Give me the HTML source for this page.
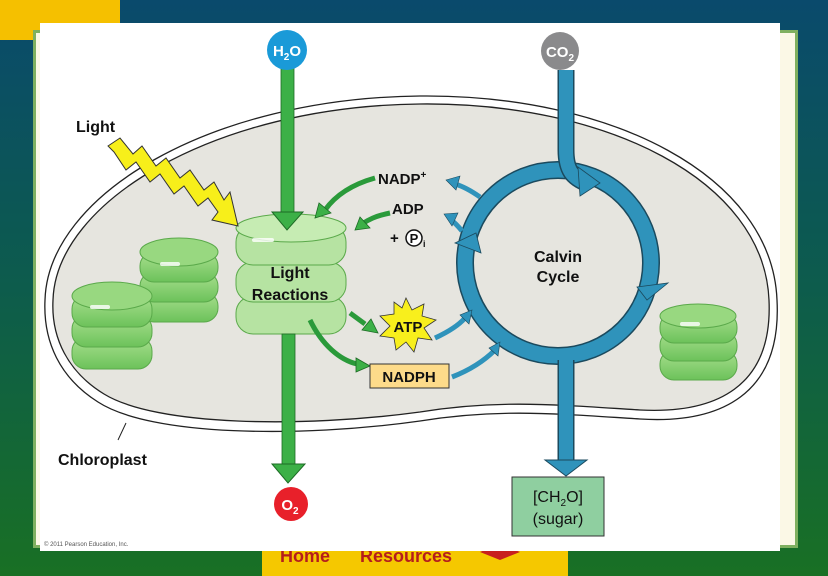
<!DOCTYPE html>
<html><head><meta charset="utf-8"><style>
body{margin:0;width:828px;height:576px;overflow:hidden;background:#0e5a4a;font-family:"Liberation Sans",sans-serif}
</style></head><body>
<svg width="828" height="576" viewBox="0 0 828 576" xmlns="http://www.w3.org/2000/svg" style="position:absolute;left:0;top:0">
<defs>
<linearGradient id="bg" x1="0" y1="0" x2="0" y2="1"><stop offset="0" stop-color="#0a4a6c"/><stop offset="0.5" stop-color="#0d5c4c"/><stop offset="1" stop-color="#197024"/></linearGradient>
<linearGradient id="disk" x1="0" y1="0" x2="0" y2="1"><stop offset="0" stop-color="#a9e08f"/><stop offset="1" stop-color="#6cc25a"/></linearGradient>
</defs>
<rect width="828" height="576" fill="url(#bg)"/>
<rect x="0" y="0" width="120" height="40" fill="#f5c000"/>
<rect x="33" y="30" width="765" height="518" fill="#7fb060"/>
<rect x="36" y="33" width="759" height="512" fill="#fbf8e6"/>
<rect x="262" y="540" width="306" height="36" fill="#f5c800"/>
<text x="280" y="562" font-size="18" font-weight="bold" fill="#b51d1d">Home</text>
<text x="360" y="562" font-size="18" font-weight="bold" fill="#b51d1d">Resources</text>
<path d="M480 552 l20 -8 v16 z M520 552 l-20 -8 v16 z" fill="#c8201e"/>
<rect x="40" y="23" width="740" height="528" fill="#fff"/>
<path d="M45,300 C48,195 210,98 420,96 C610,94 772,175 777,300 C782,395 720,424 640,419 C560,414 500,408 420,421 C300,438 150,436 98,402 C60,378 43,342 45,300 Z" fill="#fff" stroke="#222" stroke-width="1.3"/>
<path d="M53,300 C56,202 214,106 420,104 C606,102 764,180 769,300 C773,387 716,414 640,410 C560,405 500,399 420,412 C302,428 156,426 104,394 C68,372 51,338 53,300 Z" fill="#e6e5df" stroke="#222" stroke-width="1.3"/>
<g stroke="#5aa94a" stroke-width="1">
<rect x="140" y="292" width="78" height="30" rx="14" fill="url(#disk)"/>
<rect x="140" y="272" width="78" height="30" rx="14" fill="url(#disk)"/>
<rect x="140" y="252" width="78" height="30" rx="14" fill="url(#disk)"/>
<ellipse cx="179" cy="252" rx="39" ry="14" fill="#98d880"/>
<rect x="72" y="337" width="80" height="32" rx="14" fill="url(#disk)"/>
<rect x="72" y="315" width="80" height="32" rx="14" fill="url(#disk)"/>
<rect x="72" y="295" width="80" height="32" rx="14" fill="url(#disk)"/>
<ellipse cx="112" cy="296" rx="40" ry="14" fill="#98d880"/>
<rect x="660" y="350" width="77" height="30" rx="14" fill="url(#disk)"/>
<rect x="660" y="331" width="77" height="30" rx="14" fill="url(#disk)"/>
<rect x="660" y="313" width="77" height="30" rx="14" fill="url(#disk)"/>
<ellipse cx="698" cy="316" rx="38" ry="12" fill="#98d880"/>
<rect x="236" y="296" width="110" height="38" rx="17" fill="#b6e3a2"/>
<rect x="236" y="262" width="110" height="40" rx="17" fill="#b6e3a2"/>
<rect x="236" y="225" width="110" height="40" rx="17" fill="#b6e3a2"/>
<ellipse cx="291" cy="228" rx="55" ry="14" fill="#c6ecb3"/>
</g>
<g fill="#fff" opacity="0.8"><rect x="160" y="262" width="20" height="4" rx="2"/><rect x="90" y="305" width="20" height="4" rx="2"/><rect x="680" y="322" width="20" height="4" rx="2"/><rect x="252" y="238" width="22" height="4" rx="2"/></g>
<path d="M108,146 L120,138 L133,154 L142,146 L156,166 L166,158 L180,178 L190,170 L204,190 L214,182 L224,200 L230,192 L238,226 L212,220 L218,212 L208,198 L198,206 L184,186 L174,194 L160,174 L150,182 L136,162 L126,170 L114,152 Z" fill="#f7ef1a" stroke="#333" stroke-width="1"/>
<rect x="281" y="68" width="13" height="150" fill="#3cb047" stroke="#1d6b25" stroke-width="0.8"/>
<path d="M272,212 L303,212 L287,230 Z" fill="#3cb047" stroke="#1d6b25"/>
<rect x="282" y="334" width="13" height="132" fill="#3cb047" stroke="#1d6b25" stroke-width="0.8"/>
<path d="M272,464 L305,464 L288,483 Z" fill="#3cb047" stroke="#1d6b25"/>
<text x="290" y="278" font-size="16" font-weight="bold" text-anchor="middle" fill="#111">Light</text>
<text x="290" y="300" font-size="16" font-weight="bold" text-anchor="middle" fill="#111">Reactions</text>
<g stroke="#2a9a3a" stroke-width="5" fill="none"><path d="M375,178 C350,185 335,196 325,210"/><path d="M390,213 C375,216 368,220 362,224"/><path d="M350,313 L365,324"/><path d="M310,320 C322,345 340,360 357,364"/></g>
<g fill="#3cb047" stroke="#1d6b25" stroke-width="0.8"><path d="M315,218 L319,203 L331,213 Z"/><path d="M355,230 L360,217 L370,228 Z"/><path d="M378,333 L362,330 L371,319 Z"/><path d="M370,366 L356,372 L356,358 Z"/></g>
<circle cx="558" cy="263" r="93" fill="none" stroke="#1b4a5e" stroke-width="18"/>
<circle cx="558" cy="263" r="93" fill="none" stroke="#2f93bb" stroke-width="15"/>
<path d="M566,70 L566,150 C566,170 572,178 588,184" stroke="#1b4a5e" stroke-width="17" fill="none"/>
<path d="M566,70 L566,150 C566,170 572,178 588,184" stroke="#2f93bb" stroke-width="14" fill="none"/>
<path d="M566,360 L566,462" stroke="#1b4a5e" stroke-width="17"/>
<path d="M566,354 L566,462" stroke="#2f93bb" stroke-width="14"/>
<path d="M545,460 L587,460 L566,476 Z" fill="#2f93bb" stroke="#1b4a5e"/>
<g fill="#2f93bb" stroke="#1b4a5e" stroke-width="0.8"><path d="M578,167 L600,183 L580,196 Z"/><path d="M637,287 L668,283 L647,300 Z"/><path d="M455,243 L476,233 L481,253 Z"/></g>
<g stroke="#2f93bb" stroke-width="5" fill="none"><path d="M480,197 C470,190 462,186 455,184"/><path d="M462,231 C458,226 454,222 450,219"/><path d="M435,338 C448,332 458,326 465,318"/><path d="M452,377 C470,370 485,360 495,350"/></g>
<g fill="#2f93bb" stroke="#1b4a5e" stroke-width="0.6"><path d="M446,180 L460,176 L456,190 Z"/><path d="M444,214 L458,213 L452,226 Z"/><path d="M472,310 L469,324 L460,315 Z"/><path d="M500,342 L498,356 L489,348 Z"/></g>
<text x="558" y="262" font-size="16" font-weight="bold" text-anchor="middle" fill="#111">Calvin</text>
<text x="558" y="282" font-size="16" font-weight="bold" text-anchor="middle" fill="#111">Cycle</text>
<text x="378" y="184" font-size="15" font-weight="bold" fill="#111">NADP<tspan font-size="10" dy="-6">+</tspan></text>
<text x="392" y="214" font-size="15" font-weight="bold" fill="#111">ADP</text>
<text x="390" y="243" font-size="15" font-weight="bold" fill="#111">+</text>
<circle cx="414" cy="238" r="8" fill="#fff" stroke="#111" stroke-width="1.5"/>
<text x="414" y="243" font-size="13" font-weight="bold" text-anchor="middle" fill="#111">P</text>
<text x="423" y="247" font-size="9" font-weight="bold" fill="#111">i</text>
<path d="M406,298 L412,310 L424,304 L422,316 L436,320 L424,328 L432,340 L418,338 L414,352 L406,342 L396,350 L394,338 L380,336 L390,326 L380,316 L394,314 L394,302 L402,308 Z" fill="#f8ef1c" stroke="#333" stroke-width="0.8"/>
<text x="408" y="332" font-size="15" font-weight="bold" text-anchor="middle" fill="#111">ATP</text>
<rect x="370" y="364" width="79" height="24" fill="#fddb8a" stroke="#333" stroke-width="1"/>
<text x="409" y="382" font-size="15" font-weight="bold" text-anchor="middle" fill="#111">NADPH</text>
<text x="76" y="132" font-size="16" font-weight="bold" fill="#111">Light</text>
<path d="M126,423 L118,440" stroke="#222" stroke-width="1"/>
<text x="58" y="465" font-size="16" font-weight="bold" fill="#111">Chloroplast</text>
<circle cx="287" cy="50" r="20" fill="#1a9ad8"/>
<text x="287" y="56" font-size="15" font-weight="bold" text-anchor="middle" fill="#fff">H<tspan font-size="10" dy="4">2</tspan><tspan dy="-4">O</tspan></text>
<circle cx="560" cy="51" r="19" fill="#8a8a8c"/>
<text x="560" y="57" font-size="15" font-weight="bold" text-anchor="middle" fill="#fff">CO<tspan font-size="10" dy="4">2</tspan></text>
<circle cx="291" cy="504" r="17" fill="#e8202a"/>
<text x="290" y="510" font-size="15" font-weight="bold" text-anchor="middle" fill="#fff">O<tspan font-size="10" dy="4">2</tspan></text>
<rect x="512" y="477" width="92" height="59" fill="#8fcfa0" stroke="#333" stroke-width="1"/>
<text x="558" y="502" font-size="16" text-anchor="middle" fill="#111">[CH<tspan font-size="10" dy="4">2</tspan><tspan dy="-4">O]</tspan></text>
<text x="558" y="524" font-size="16" text-anchor="middle" fill="#111">(sugar)</text>
<text x="44" y="546" font-size="6" fill="#555">© 2011 Pearson Education, Inc.</text>
</svg>
</body></html>
